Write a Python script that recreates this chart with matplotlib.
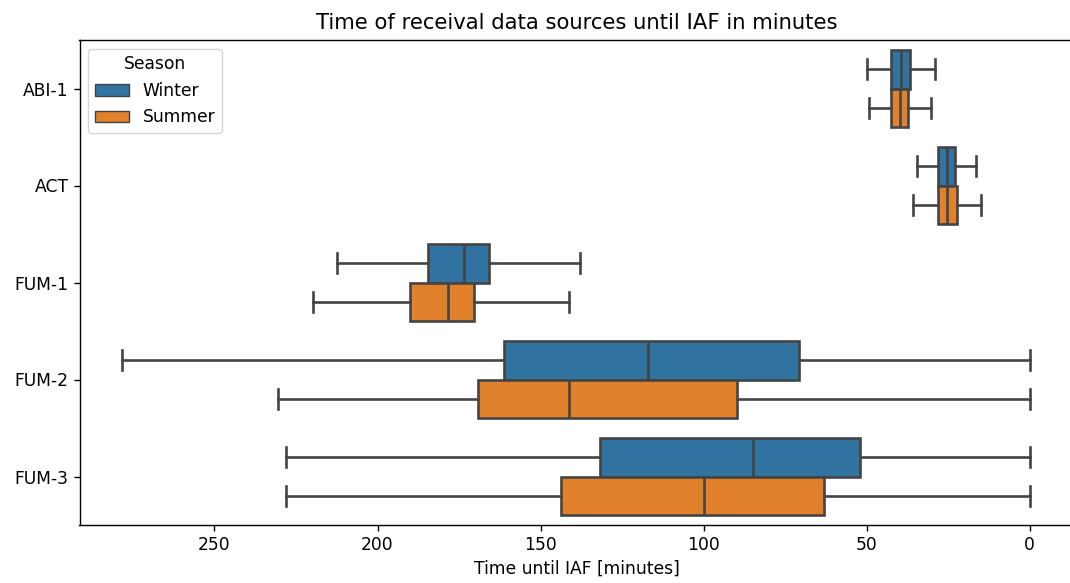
import matplotlib
matplotlib.use("Agg")
import matplotlib.pyplot as plt
from matplotlib.patches import Patch

# Summary statistics (minutes until IAF) per data source and season
sources = ["ABI-1", "ACT", "FUM-1", "FUM-2", "FUM-3"]
seasons = ["Winter", "Summer"]

winter_whislo = [29.1, 16.5, 138.0, 0.0, 0.0]
winter_q1 = [36.8, 23.0, 165.8, 70.7, 52.1]
winter_med = [39.6, 25.5, 173.5, 117.2, 85.0]
winter_q3 = [42.4, 28.1, 184.6, 161.2, 131.8]
winter_whishi = [49.9, 34.5, 212.4, 278.3, 228.2]

summer_whislo = [30.3, 15.0, 141.2, 0.0, 0.0]
summer_q1 = [37.2, 22.4, 170.4, 89.7, 63.2]
summer_med = [39.9, 25.5, 178.5, 141.3, 100.0]
summer_q3 = [42.4, 28.1, 190.1, 169.3, 143.8]
summer_whishi = [49.4, 35.7, 219.7, 230.4, 228.2]

colors = {"Winter": "#3274a1", "Summer": "#e1812c"}
line_color = "#444444"

plt.rcParams["font.family"] = "DejaVu Sans"
plt.rcParams["font.size"] = 12.3

fig = plt.figure(figsize=(10.70, 5.83), dpi=100)
ax = fig.add_axes([79.5 / 1070, 58 / 583, (1075 - 79.5) / 1070, 485 / 583])


def make_stats(lo, q1, med, q3, hi):
    return [dict(whislo=a, q1=b, med=c, q3=d, whishi=e, fliers=[])
            for a, b, c, d, e in zip(lo, q1, med, q3, hi)]


groups = {
    "Winter": make_stats(winter_whislo, winter_q1, winter_med, winter_q3, winter_whishi),
    "Summer": make_stats(summer_whislo, summer_q1, summer_med, summer_q3, summer_whishi),
}
offsets = {"Winter": -0.2, "Summer": 0.2}
lw = 1.9

for season in seasons:
    pos = [i + offsets[season] for i in range(len(sources))]
    ax.bxp(groups[season], positions=pos, widths=0.4, vert=False,
           patch_artist=True, showfliers=False,
           boxprops=dict(facecolor=colors[season], edgecolor=line_color, linewidth=lw),
           medianprops=dict(color=line_color, linewidth=lw),
           whiskerprops=dict(color=line_color, linewidth=lw),
           capprops=dict(color=line_color, linewidth=lw),
           manage_ticks=False)

ax.set_yticks(range(len(sources)))
ax.set_yticklabels(sources)
ax.set_ylim(len(sources) - 0.5, -0.5)
ax.set_xlim(291.4, -13.9)
ax.set_xticks([250, 200, 150, 100, 50, 0])
ax.set_xlabel("Time until IAF [minutes]")
ax.set_title("Time of receival data sources until IAF in minutes", fontsize=15.2, pad=8)

for sp in ax.spines.values():
    sp.set_linewidth(1.0)
ax.tick_params(length=4.2, width=1.0)

handles = [Patch(facecolor=colors[s], edgecolor=line_color, linewidth=1.0, label=s)
           for s in seasons]
ax.legend(handles=handles, title="Season", loc="upper left")

fig.savefig("out.png", dpi=100)
